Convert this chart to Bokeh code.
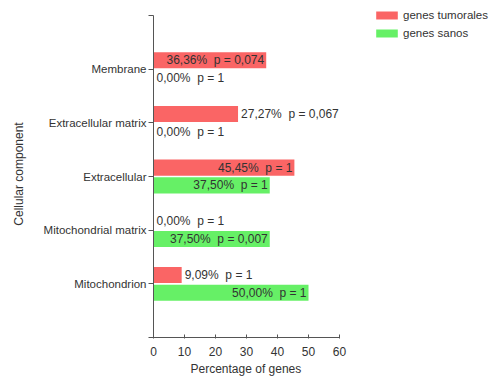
from bokeh.plotting import figure
from bokeh.models import (Range1d, FixedTicker, Legend, LegendItem,
                          ColumnDataSource, Title)
from bokeh.core.properties import value
from bokeh.embed import file_html
from bokeh.resources import INLINE

# ---- data ----
categories = ["Mitochondrion", "Mitochondrial matrix", "Extracellular",
              "Extracellular matrix", "Membrane"]
tumor_pct = [9.09, 0.00, 45.45, 27.27, 36.36]
tumor_p = ["1", "1", "1", "0,067", "0,074"]
healthy_pct = [50.00, 37.50, 37.50, 0.00, 0.00]
healthy_p = ["1", "0,007", "1", "1", "1"]
x_ticks = [0, 10, 20, 30, 40, 50, 60]

RED = "#fa6565"
GREEN = "#66f066"
FONT = "Liberation Sans"
TXT = "#333333"

pos = list(range(len(categories)))
off = 0.165
hgt = 0.30

# layout: axis spans 186px for 0..60 and 322px for -1..5;
# the frame is extended right/up so the legend fits inside it
AX_W, AX_H = 186, 322
FR_W, FR_H = 339, 327
x_max = 60 * FR_W / AX_W
y_max = -1 + 6 * FR_H / AX_H

def fmt(v):
    return ("%.2f" % v).replace(".", ",") + "%"

def label_sources(vals, pvals, ypos):
    inside = dict(x=[], y=[], t=[])
    outside = dict(x=[], y=[], t=[])
    for v, pv, y in zip(vals, pvals, ypos):
        txt = fmt(v) + " \u00a0p = " + pv
        d = inside if v >= 30 else outside
        d["x"].append(v)
        d["y"].append(y)
        d["t"].append(txt)
    return ColumnDataSource(inside), ColumnDataSource(outside)

p = figure(frame_width=FR_W, frame_height=FR_H, output_backend="svg",
           toolbar_location=None,
           x_range=Range1d(0, x_max), y_range=Range1d(-1, y_max),
           min_border_left=153, min_border_right=0,
           min_border_top=10, min_border_bottom=42)
p.outline_line_color = None
p.grid.visible = False
p.background_fill_color = "white"

red_y = [i + off for i in pos]
green_y = [i - off for i in pos]

r1 = p.hbar(y=red_y, left=0, right=tumor_pct, height=hgt,
            fill_color=RED, line_color=None)
r2 = p.hbar(y=green_y, left=0, right=healthy_pct, height=hgt,
            fill_color=GREEN, line_color=None)

for vals, pvals, ys in ((tumor_pct, tumor_p, red_y), (healthy_pct, healthy_p, green_y)):
    src_in, src_out = label_sources(vals, pvals, ys)
    p.text(x="x", y="y", text="t", source=src_in, text_align="right",
           text_baseline="middle", x_offset=-2, text_font_size="12px",
           text_font=value(FONT), text_color=TXT)
    p.text(x="x", y="y", text="t", source=src_out, text_align="left",
           text_baseline="middle", x_offset=3, text_font_size="12px",
           text_font=value(FONT), text_color=TXT)

# axes
p.xaxis.ticker = FixedTicker(ticks=x_ticks)
p.xaxis.bounds = (0, 60)
p.xaxis.major_tick_in = 3
p.xaxis.major_tick_out = 1
p.xaxis.minor_tick_line_color = None
p.xaxis.major_label_standoff = 8

yt = [-1] + pos + [5]
p.yaxis.ticker = FixedTicker(ticks=yt)
p.yaxis.bounds = (-1, 5)
ov = {i: c for i, c in zip(pos, categories)}
ov[-1] = ""
ov[5] = ""
p.yaxis.major_label_overrides = ov
p.yaxis.axis_label = "Cellular component"
p.yaxis.major_tick_in = 0
p.yaxis.major_tick_out = 5
p.yaxis.minor_tick_line_color = None
p.yaxis.major_label_standoff = 2
p.yaxis.axis_label_standoff = 15

for ax in (p.xaxis, p.yaxis):
    ax.axis_line_color = "#555555"
    ax.major_tick_line_color = "#555555"
    ax.major_label_text_font = FONT
    ax.major_label_text_color = TXT
    ax.axis_label_text_font = FONT
    ax.axis_label_text_color = TXT
    ax.axis_label_text_font_style = "normal"
p.xaxis.major_label_text_font_size = "12px"
p.yaxis.major_label_text_font_size = "11.5px"
p.yaxis.axis_label_text_font_size = "12px"

# x-axis title, centred under the 0..60 axis (not the widened frame)
xt = Title(text="Percentage of genes", align="left", offset=37,
           vertical_align="bottom", standoff=2,
           text_font=FONT, text_font_size="12px", text_font_style="normal",
           text_color=TXT)
p.add_layout(xt, "below")

legend = Legend(items=[LegendItem(label="genes tumorales", renderers=[r1]),
                       LegendItem(label="genes sanos", renderers=[r2])],
                location=(220, 298))
legend.margin = 0
legend.padding = 0
legend.border_line_alpha = 0
legend.background_fill_alpha = 0
legend.glyph_width = 27
legend.glyph_height = 10
legend.label_height = 10
legend.spacing = 6
legend.label_standoff = 3
legend.label_text_font = FONT
legend.label_text_font_size = "11.5px"
legend.label_text_color = TXT
p.add_layout(legend)

open("out.html", "w").write(file_html(p, INLINE))
